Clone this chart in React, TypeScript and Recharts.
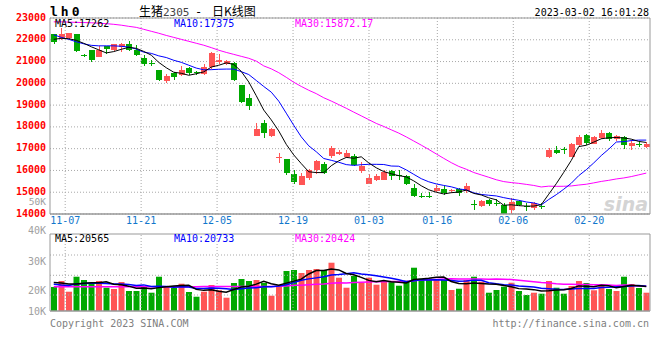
import {
  ComposedChart,
  Bar,
  Line,
  XAxis,
  YAxis,
  CartesianGrid,
  ReferenceLine,
  Cell,
} from 'recharts';

// trading days shown, 2022-11-03 .. 2023-03-02
const dates = [
  '11-03', '11-04', '11-07', '11-08', '11-09', '11-10', '11-11', '11-14', '11-15', '11-16',
  '11-17', '11-18', '11-21', '11-22', '11-23', '11-24', '11-25', '11-28', '11-29', '11-30',
  '12-01', '12-02', '12-05', '12-06', '12-07', '12-08', '12-09', '12-12', '12-13', '12-14',
  '12-15', '12-16', '12-19', '12-20', '12-21', '12-22', '12-23', '12-26', '12-27', '12-28',
  '12-29', '12-30', '01-03', '01-04', '01-05', '01-06', '01-09', '01-10', '01-11', '01-12',
  '01-13', '01-16', '01-17', '01-18', '01-19', '01-20', '01-30', '01-31', '02-01', '02-02',
  '02-03', '02-06', '02-07', '02-08', '02-09', '02-10', '02-13', '02-14', '02-15', '02-16',
  '02-17', '02-20', '02-21', '02-22', '02-23', '02-24', '02-27', '02-28', '03-01', '03-02',
];

const openPx = [
  22250, 22068, 22068, 22251, 21300, 21516, 21210, 21700, 21550, 21670,
  21810, 21550, 21180, 20950, 20590, 20110, 20480, 20380, 20690, 20510,
  20450, 20750, 20960, 20870, 20930, 19910, 19340, 17590, 18180, 17580,
  16570, 16510, 15820, 15320, 15670, 16010, 16280, 16680, 16740, 16620,
  16650, 15970, 15400, 15580, 15580, 15970, 15790, 15730, 15210, 14830,
  14830, 15060, 15150, 15080, 15170, 15060, 14460, 14350, 14630, 14520,
  14400, 14200, 14600, 14360, 14290, 14360, 16620, 16930, 16980, 16620,
  17150, 17610, 17230, 17510, 17720, 17460, 17530, 17120, 17210, 17080,
];
const highPx = [
  22280, 22558, 22330, 22280, 21350, 21550, 21700, 21730, 21800, 21830,
  21930, 21750, 21290, 21060, 20600, 20440, 20500, 20780, 20750, 20570,
  20870, 21440, 21330, 21090, 20960, 19920, 19500, 18180, 18300, 17930,
  16800, 16540, 16010, 15880, 16080, 16500, 16390, 17130, 16920, 16920,
  16770, 16390, 15820, 15820, 16040, 16010, 16040, 15780, 15390, 14960,
  15000, 15320, 15290, 15170, 15210, 15420, 14660, 14660, 14710, 14710,
  14510, 14750, 14630, 14500, 14550, 14510, 17020, 17110, 17060, 17260,
  17610, 17690, 17570, 17840, 17760, 17630, 17570, 17380, 17300, 17300,
];
const lowPx = [
  21800, 22000, 22030, 21460, 21220, 20997, 21190, 21360, 21480, 21440,
  21500, 21240, 20780, 20780, 20100, 20020, 20140, 20320, 20380, 20400,
  20380, 20680, 20900, 20840, 20110, 19100, 18790, 17590, 17490, 17550,
  16340, 15780, 15400, 15320, 15550, 15820, 15820, 16560, 16730, 16590,
  16190, 15860, 15370, 15520, 15550, 15550, 15550, 15320, 14780, 14750,
  14750, 15010, 14870, 14960, 14810, 14960, 14200, 14320, 14350, 14350,
  14020, 14020, 14350, 14140, 14170, 14220, 16580, 16750, 16750, 16620,
  17100, 17150, 17200, 17460, 17350, 17370, 16980, 16920, 17080, 17050,
];
const closePx = [
  21880, 22251, 22290, 21484, 21280, 21090, 21550, 21580, 21790, 21800,
  21550, 21320, 20870, 20930, 20140, 20320, 20290, 20630, 20470, 20490,
  20750, 21390, 21050, 21020, 20140, 19140, 18960, 17900, 17720, 17890,
  16600, 15880, 15470, 15730, 16010, 16430, 15860, 17050, 16850, 16800,
  16240, 16190, 15650, 15730, 15930, 15730, 15770, 15360, 14810, 14810,
  14810, 15210, 14960, 15100, 14960, 15270, 14440, 14600, 14450, 14500,
  14020, 14550, 14400, 14340, 14510, 14340, 16960, 16800, 16960, 17230,
  17530, 17260, 17530, 17720, 17460, 17600, 17150, 17260, 17190, 17230,
];
const volume = [
  20500, 22600, 18850, 24100, 22950, 21650, 22600, 20250, 19800, 22250,
  19100, 19100, 20600, 18500, 24100, 20600, 20250, 21650, 18750, 17100,
  18850, 21200, 19350, 16750, 21900, 23300, 22600, 22950, 21900, 17450,
  20850, 26100, 26450, 25400, 26450, 26800, 26450, 29000, 23750, 20250,
  24350, 22000, 23750, 21300, 22350, 22350, 20950, 22700, 27250, 23400,
  23400, 22950, 22950, 19450, 19900, 22950, 24100, 22350, 18500, 19450,
  20600, 22000, 19100, 17700, 18500, 18150, 22600, 20250, 18150, 20850,
  22600, 21900, 19350, 20850, 19800, 19100, 24100, 21550, 20150, 18500,
];

// averages before a full window is visible
const ma5Head = [22020, 22066, 22050, 21975];
const ma10Head = [22227, 22112, 22020, 21906, 21814, 21745, 21722, 21722, 21722];
const ma30Head = [
  22824, 22824, 22810, 22800, 22790, 22780, 22760, 22740, 22710, 22670,
  22617, 22570, 22480, 22390, 22300, 22200, 22110, 22020, 21930, 21840,
  21750, 21640, 21520, 21420, 21330, 21240, 21150, 21020, 20800,
];
const volMa5Head = [22050, 21900, 21550, 21550];
const volMa10Head = [21480, 21200, 21025, 21550, 21725, 21795, 21795, 21725, 21550];
const volMa30Head = [
  20600, 20600, 20600, 20600, 20600, 20600, 20600, 20600, 20600, 20600,
  20600, 20600, 20600, 20600, 20600, 20600, 20600, 20600, 20600, 20600,
  20650, 20650, 20650, 20650, 20650, 20650, 20650, 20650, 20650,
];

const dateTickIdx = [2, 12, 22, 32, 42, 51, 61, 71];
const priceTicks = [14000, 15000, 16000, 17000, 18000, 19000, 20000, 21000, 22000, 23000];
const volMin = 12100;
const volMax = 39050;
const volTicks = [volMin, 20000, 30000, volMax];
const volTickLabels = ['10K', '20K', '30K', '40K'];
const volGridValues = [31700, 24600, 17700];

const UP = '#ff5555';
const DOWN = '#00a800';
const GRID = '#a8a8a8';
const BORDER = '#999999';
const MONO = '"DejaVu Sans Mono", monospace';

const movingAvg = (src: number[], n: number, head: number[]) =>
  src.map((_, i) =>
    i < n - 1 ? head[i] : src.slice(i - n + 1, i + 1).reduce((a, b) => a + b, 0) / n,
  );

const ma5 = movingAvg(closePx, 5, ma5Head);
const ma10 = movingAvg(closePx, 10, ma10Head);
const ma30 = movingAvg(closePx, 30, ma30Head);
const volMa5 = movingAvg(volume, 5, volMa5Head);
const volMa10 = movingAvg(volume, 10, volMa10Head);
const volMa30 = movingAvg(volume, 30, volMa30Head);

const rows = dates.map((d, i) => ({
  i,
  date: d,
  open: openPx[i],
  high: highPx[i],
  low: lowPx[i],
  close: closePx[i],
  range: [lowPx[i], highPx[i]],
  ma5: ma5[i],
  ma10: ma10[i],
  ma30: ma30[i],
  vol: volume[i],
  volMa5: volMa5[i],
  volMa10: volMa10[i],
  volMa30: volMa30[i],
}));

const Candle = (props: any) => {
  const { x, y, width, height, payload } = props;
  const { open, close, high, low } = payload;
  const color = close >= open ? UP : DOWN;
  const top = Math.min(y, y + height);
  const h = Math.abs(height);
  const span = high - low || 1;
  const toY = (p: number) => top + ((high - p) / span) * h;
  const bodyTop = toY(Math.max(open, close));
  const bodyBottom = toY(Math.min(open, close));
  const cx = x + width / 2;
  return (
    <g shapeRendering="crispEdges">
      <line x1={cx} x2={cx} y1={top} y2={top + h} stroke={color} strokeWidth={1} />
      <rect x={x} y={bodyTop} width={width} height={Math.max(1, bodyBottom - bodyTop)} fill={color} />
    </g>
  );
};

const PriceTick = ({ x, y, payload }: any) => (
  <text x={x} y={y} dy={2.6} textAnchor="end" fill="#ff0000" fontSize={10} fontWeight="bold" fontFamily={MONO}>
    {payload.value}
  </text>
);

const VolTick = ({ x, y, payload }: any) => {
  const k = volTicks.indexOf(payload.value);
  const lift = payload.value === volMax ? -4 : payload.value === volMin ? 0 : 1.5;
  return (
    <text x={x} y={y + lift} dy={3.6} textAnchor="end" fill="#a0a0a0" fontSize={10} fontFamily={MONO}>
      {volTickLabels[k]}
    </text>
  );
};

const DateTick = ({ x, payload }: any) => (
  <text x={x} y={224} textAnchor="middle" fill="#1177cc" fontSize={10} fontFamily={MONO}>
    {dates[payload.value]}
  </text>
);

const PriceChart = () => (
  <ComposedChart width={660} height={230} data={rows} margin={{ top: 18, right: 10, bottom: 0, left: 0 }}>
    <XAxis
      xAxisId="g"
      type="number"
      domain={[0, 79]}
      ticks={dateTickIdx}
      interval={0}
      height={16}
      axisLine={false}
      tickLine={false}
      tickSize={0}
      tickMargin={0}
      tick={(p: any) => <DateTick {...p} />}
    />
    <XAxis xAxisId="c" dataKey="i" type="category" height={0} hide />
    <YAxis
      yAxisId="p"
      domain={[14000, 23000]}
      ticks={priceTicks}
      interval={0}
      width={50}
      axisLine={false}
      tickLine={false}
      tickSize={0}
      tickMargin={4}
      tick={(p: any) => <PriceTick {...p} />}
    />
    <CartesianGrid xAxisId="g" yAxisId="p" vertical={false} stroke={GRID} strokeDasharray="1 2" />
    {dateTickIdx.map((t) => (
      <ReferenceLine key={t} xAxisId="g" yAxisId="p" x={t} stroke={GRID} strokeDasharray="1 2" />
    ))}
    <Bar
      xAxisId="c"
      yAxisId="p"
      dataKey="range"
      barSize={6}
      shape={(p: any) => <Candle {...p} />}
      isAnimationActive={false}
    />
    <Line xAxisId="c" yAxisId="p" dataKey="ma30" stroke="#ff00ff" strokeWidth={1} dot={false} isAnimationActive={false} />
    <Line xAxisId="c" yAxisId="p" dataKey="ma10" stroke="#0000ff" strokeWidth={1} dot={false} isAnimationActive={false} />
    <Line xAxisId="c" yAxisId="p" dataKey="ma5" stroke="#000000" strokeWidth={1} dot={false} isAnimationActive={false} />
    <ReferenceLine xAxisId="g" yAxisId="p" y={23000} stroke={BORDER} />
    <ReferenceLine xAxisId="g" yAxisId="p" y={14000} stroke={BORDER} strokeWidth={1.5} />
    <ReferenceLine xAxisId="g" yAxisId="p" x={0} stroke={BORDER} />
    <ReferenceLine xAxisId="g" yAxisId="p" x={79} stroke={BORDER} />
  </ComposedChart>
);

const VolumeChart = () => (
  <ComposedChart width={660} height={100} data={rows} margin={{ top: 14, right: 10, bottom: 9, left: 0 }}>
    <XAxis xAxisId="g" type="number" domain={[0, 79]} ticks={dateTickIdx} interval={0} height={0} hide />
    <XAxis xAxisId="c" dataKey="i" type="category" height={0} hide />
    <YAxis
      yAxisId="v"
      domain={[volMin, volMax]}
      ticks={volTicks}
      interval={0}
      width={50}
      axisLine={false}
      tickLine={false}
      tickSize={0}
      tickMargin={4}
      tick={(p: any) => <VolTick {...p} />}
    />
    {dateTickIdx.map((t) => (
      <ReferenceLine key={t} xAxisId="g" yAxisId="v" x={t} stroke={GRID} strokeDasharray="1 2" />
    ))}
    {volGridValues.map((v) => (
      <ReferenceLine key={v} xAxisId="g" yAxisId="v" y={v} stroke={GRID} strokeDasharray="1 2" />
    ))}
    <Bar xAxisId="c" yAxisId="v" dataKey="vol" barSize={6} isAnimationActive={false}>
      {rows.map((r) => (
        <Cell key={r.i} fill={r.close >= r.open ? UP : DOWN} />
      ))}
    </Bar>
    <Line xAxisId="c" yAxisId="v" dataKey="volMa30" stroke="#ff00ff" strokeWidth={1.5} dot={false} isAnimationActive={false} />
    <Line xAxisId="c" yAxisId="v" dataKey="volMa10" stroke="#0000ff" strokeWidth={1.5} dot={false} isAnimationActive={false} />
    <Line xAxisId="c" yAxisId="v" dataKey="volMa5" stroke="#000000" strokeWidth={1.5} dot={false} isAnimationActive={false} />
    <ReferenceLine xAxisId="g" yAxisId="v" y={volMax} stroke={BORDER} />
    <ReferenceLine xAxisId="g" yAxisId="v" y={volMin} stroke={BORDER} strokeWidth={1.5} />
    <ReferenceLine xAxisId="g" yAxisId="v" x={0} stroke={BORDER} />
    <ReferenceLine xAxisId="g" yAxisId="v" x={79} stroke={BORDER} />
  </ComposedChart>
);

const Labels = () => (
  <svg width={660} height={360} style={{ position: 'absolute', left: 0, top: 0, pointerEvents: 'none' }}>
    <text x={50} y={15.7} fontSize={13} fontWeight="bold" fontFamily={MONO} letterSpacing={3} fill="#000">
      lh0
    </text>
    <text x={139} y={16} fontSize={12} fontFamily='"Noto Sans CJK SC", sans-serif' fill="#000">
      生猪
    </text>
    <text x={163} y={16} fontSize={11} fontFamily={MONO} fill="#444">
      2305
    </text>
    <text x={195} y={16} fontSize={12} fontFamily={MONO} fill="#000">
      -
    </text>
    <text x={212} y={16} fontSize={12} fontFamily='"Noto Sans CJK SC", sans-serif' fill="#000">
      日K线图
    </text>
    <text x={649} y={15.7} textAnchor="end" fontSize={10} fontFamily={MONO} fill="#000">
      2023-03-02 16:01:28
    </text>

    <text x={55} y={27} fontSize={10} fontFamily={MONO} fill="#000">MA5:17262</text>
    <text x={174} y={27} fontSize={10} fontFamily={MONO} fill="#0000ff">MA10:17375</text>
    <text x={295} y={27} fontSize={10} fontFamily={MONO} fill="#ff00ff">MA30:15872.17</text>

    <text x={46} y={204.5} textAnchor="end" fontSize={9.5} fontFamily={MONO} fill="#a0a0a0">50K</text>
    <text x={648} y={211} textAnchor="end" fontSize={19} fontWeight="bold" fontStyle="italic" fontFamily="Verdana, DejaVu Sans, sans-serif" fill="#d4d4d4">
      sina
    </text>

    <text x={55} y={242} fontSize={10} fontFamily={MONO} fill="#000">MA5:20565</text>
    <text x={174} y={242} fontSize={10} fontFamily={MONO} fill="#0000ff">MA10:20733</text>
    <text x={295} y={242} fontSize={10} fontFamily={MONO} fill="#ff00ff">MA30:20424</text>

    <text x={50} y={327} fontSize={10} fontFamily={MONO} fill="#808080">Copyright 2023 SINA.COM</text>
    <text x={649} y={327} textAnchor="end" fontSize={10} fontFamily={MONO} fill="#808080">
      http://finance.sina.com.cn
    </text>
  </svg>
);

export default function App() {
  return (
    <div style={{ position: 'absolute', left: 0, top: 0, width: 660, height: 360, background: '#fff' }}>
      <div style={{ position: 'absolute', left: 0, top: 0 }}>
        <PriceChart />
      </div>
      <div style={{ position: 'absolute', left: 0, top: 220 }}>
        <VolumeChart />
      </div>
      <Labels />
    </div>
  );
}
